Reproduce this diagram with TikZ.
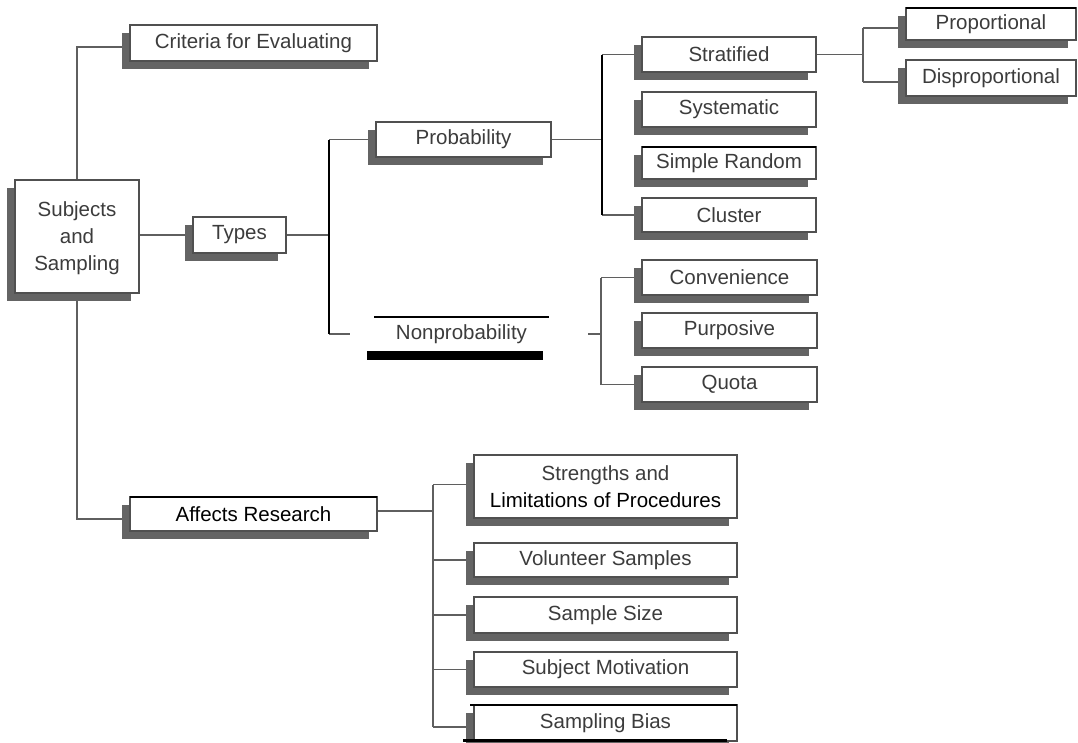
\documentclass[tikz,border=0pt]{standalone}
\usepackage{fontspec}
\setmainfont{Liberation Sans}
\usetikzlibrary{shadows,backgrounds,calc}
\definecolor{linec}{RGB}{95,95,95}
\definecolor{boxc}{RGB}{80,80,80}
\definecolor{txtc}{RGB}{60,60,60}
\definecolor{shadc}{RGB}{100,100,100}
\tikzset{
  sbox/.style={draw=boxc, line width=1.2pt, fill=white, inner sep=0pt, outer sep=0pt,
    text=txtc, font=\fontsize{20.5}{27}\selectfont, align=center,
    general shadow={fill=shadc, shadow xshift=-8pt, shadow yshift=-8pt}},
  plain/.style={inner sep=0pt, outer sep=0pt, text=txtc, font=\fontsize{20.5}{27}\selectfont, align=center},
  conn/.style={draw=linec, line width=1.2pt},
  spine/.style={draw=black, line width=2pt},
  topline/.style={draw=black, line width=1.6pt},
}
\begin{document}
\begin{tikzpicture}[x=1pt,y=-1pt]
\useasboundingbox (0,0) rectangle (1078,742);
% boxes
\node[sbox, minimum width=247pt, minimum height=36pt] (crit) at (253.5,43) {Criteria for Evaluating};
\node[sbox, minimum width=124pt, minimum height=113pt, text depth=0pt] (subj) at (77,236.5) {Subjects\\and\\Sampling};
\node[sbox, minimum width=93pt, minimum height=36pt] (types) at (239.5,235) {Types};
\node[sbox, minimum width=175pt, minimum height=35pt] (prob) at (463.5,139.5) {Probability};
\node[plain, minimum width=175pt, minimum height=34pt] (nonprob) at (461.5,334) {Nonprobability};
\node[sbox, minimum width=174pt, minimum height=35pt] (strat) at (729,54.5) {Stratified};
\node[sbox, minimum width=174pt, minimum height=35pt] (syst) at (729,109.5) {Systematic};
\node[sbox, minimum width=174pt, minimum height=32pt] (simple) at (729,163) {Simple Random};
\node[sbox, minimum width=174pt, minimum height=34pt] (cluster) at (729,215) {Cluster};
\node[sbox, minimum width=170pt, minimum height=32pt] (propo) at (991,24) {Proportional};
\node[sbox, minimum width=170pt, minimum height=36pt] (dispro) at (991,78) {Disproportional};
\node[sbox, minimum width=175pt, minimum height=35pt] (conv) at (729.5,277.5) {Convenience};
\node[sbox, minimum width=175pt, minimum height=35pt] (purp) at (729.5,330.5) {Purposive};
\node[sbox, minimum width=175pt, minimum height=35pt] (quota) at (729.5,384.5) {Quota};
\node[sbox, minimum width=247pt, minimum height=34pt, text=black] (affects) at (253.5,514) {Affects Research};
\node[sbox, minimum width=263pt, minimum height=63pt] (streng) at (605.5,486.5) {Strengths and\\\textcolor{black}{Limitations of Procedures}};
\node[sbox, minimum width=263pt, minimum height=34pt] (volun) at (605.5,560) {Volunteer Samples};
\node[sbox, minimum width=263pt, minimum height=36pt] (ssize) at (605.5,615) {Sample Size};
\node[sbox, minimum width=263pt, minimum height=35pt] (motiv) at (605.5,669.5) {Subject Motivation};
\node[sbox, minimum width=263pt, minimum height=36pt] (bias) at (605.5,723) {Sampling Bias};
% black accents
\draw[topline] (simple.north west) -- (simple.north east);
\draw[topline] (propo.north west) -- (propo.north east);
\draw[topline] (affects.north west) -- (affects.north east);
\draw[topline] ($(bias.north west)+(-4,0)$) -- (bias.north east);
\draw[topline] (nonprob.north west) -- (nonprob.north east);
\fill[black] ($(nonprob.south west)+(-7,0)$) rectangle ($(nonprob.south east)+(-6,9)$);
\fill[black] ($(bias.south west)+(-11,-2)$) rectangle ($(bias.south east)+(-10,1)$);
% junction coordinates
\coordinate (tj) at (329,235);
\coordinate (pj) at (602,139.5);
\coordinate (sj) at (863,54.5);
\coordinate (nj) at (601,334);
\coordinate (aj) at (433,511);
\begin{scope}[on background layer]
  \draw[conn] (subj.north) |- ([yshift=-4pt]crit.west);
  \draw[conn] (subj.south) |- ([yshift=-5pt]affects.west);
  \draw[conn] (types.west -| subj.east) -- (types.west);
  \draw[conn] (types.east) -- (tj);
  \draw[conn] (prob.west -| tj) -- (prob.west);
  \draw[conn, shorten >=24pt] (nonprob.west -| tj) -- (nonprob.west);
  \draw[spine] (prob.west -| tj) -- (nonprob.west -| tj);
  \draw[conn] (prob.east) -- (pj);
  \draw[conn] (strat.west -| pj) -- (strat.west);
  \draw[conn] (cluster.west -| pj) -- (cluster.west);
  \draw[spine] (strat.west -| pj) -- (cluster.west -| pj);
  \draw[conn] (strat.east) -- (sj);
  \draw[conn] ([yshift=-4pt]propo.west -| sj) -- ([yshift=-4pt]propo.west);
  \draw[conn] ([yshift=-4pt]dispro.west -| sj) -- ([yshift=-4pt]dispro.west);
  \draw[conn] ([yshift=-4pt]propo.west -| sj) -- ([yshift=-4pt]dispro.west -| sj);
  \draw[conn, shorten <=39pt] (nonprob.east) -- (nj);
  \draw[conn] (conv.west -| nj) -- (conv.west);
  \draw[conn] (quota.west -| nj) -- (quota.west);
  \draw[conn] (conv.west -| nj) -- (quota.west -| nj);
  \draw[conn] ([yshift=3pt]affects.east) -- (aj);
  \draw[conn] ([yshift=2pt]streng.west -| aj) -- ([yshift=2pt]streng.west);
  \draw[conn] (volun.west -| aj) -- (volun.west);
  \draw[conn] (ssize.west -| aj) -- (ssize.west);
  \draw[conn] (motiv.west -| aj) -- (motiv.west);
  \draw[conn] ([yshift=-4pt]bias.west -| aj) -- ([yshift=-4pt]bias.west);
  \draw[conn] ([yshift=2pt]streng.west -| aj) -- ([yshift=-4pt]bias.west -| aj);
\end{scope}
\end{tikzpicture}
\end{document}
